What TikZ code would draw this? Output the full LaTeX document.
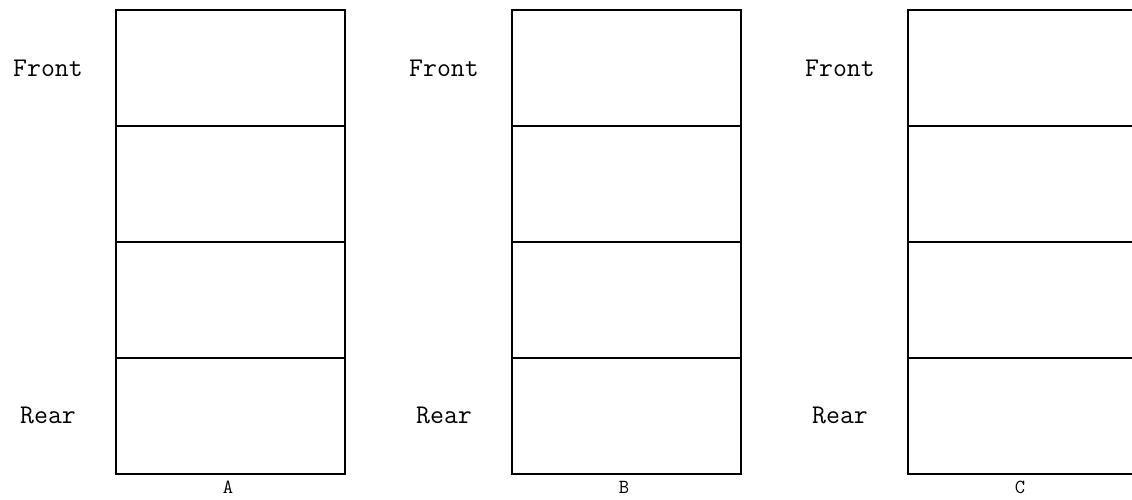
\documentclass[tikz,border=0pt]{standalone}
\begin{document}
\begin{tikzpicture}[x=1pt,y=-1pt,
  cell/.style={draw, line width=2pt, rectangle, minimum width=229pt, minimum height=116pt, inner sep=0pt, anchor=north west},
  side/.style={font=\ttfamily\fontsize{27}{27}\selectfont, inner sep=0pt},
  tag/.style={font=\ttfamily\fontsize{20}{20}\selectfont, inner sep=0pt}]
\useasboundingbox (0,0) rectangle (1132,500);
\clip (0,0) rectangle (1132,500);
\foreach \n/\x/\t in {a/115/A, b/511/B, c/907/C}{
  \node[cell] (\n1) at (\x,9) {};
  \node[cell] (\n2) at (\x,125) {};
  \node[cell] (\n3) at (\x,241) {};
  \node[cell] (\n4) at (\x,357) {};
  \node[side] (\n f) at (\x-67,68) {Front};
  \node[side] (\n r) at (\x-67,415) {Rear};
  \node[tag] (\n l) at (\x+113,487) {\t};
}
\end{tikzpicture}
\end{document}
